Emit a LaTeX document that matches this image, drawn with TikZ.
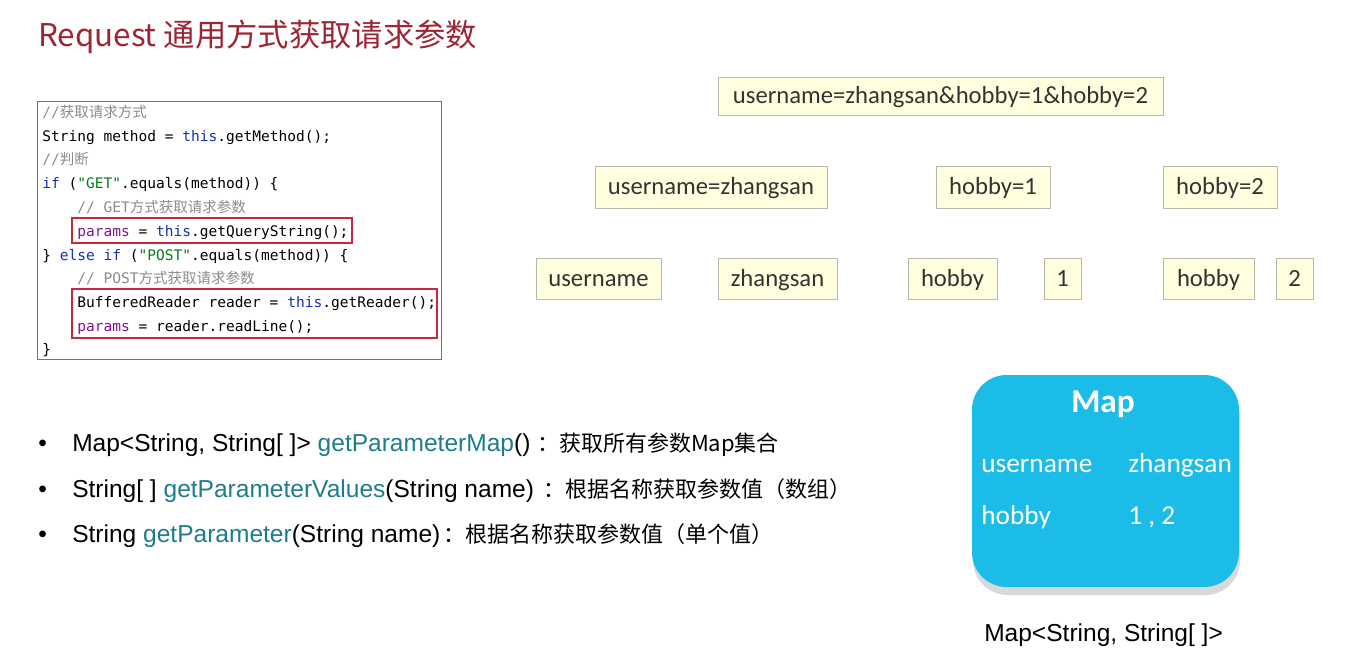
\documentclass[tikz,border=0pt]{standalone}
\usepackage{fontspec}
\setmainfont{Carlito}
\setmonofont{DejaVu Sans Mono}
\newfontfamily\cjk{Noto Sans CJK SC}
\newfontfamily\arialf{Liberation Sans}
\definecolor{titlered}{RGB}{158,38,52}
\definecolor{kwblue}{RGB}{20,50,170}
\definecolor{strgreen}{RGB}{6,125,23}
\definecolor{parpurple}{RGB}{135,16,148}
\definecolor{cmtgray}{RGB}{140,140,140}
\definecolor{markred}{RGB}{200,40,60}
\definecolor{boxyellow}{RGB}{255,255,224}
\definecolor{boxgray}{RGB}{185,185,170}
\definecolor{mapcyan}{RGB}{27,189,232}
\definecolor{methteal}{RGB}{30,125,140}
\newcommand\kw[1]{\textcolor{kwblue}{#1}}
\newcommand\str[1]{\textcolor{strgreen}{#1}}
\newcommand\prm{\textcolor{parpurple}{params}}
\newcommand\meth[1]{\textcolor{methteal}{#1}}
\newcommand\zh[1]{{\cjk\fontsize{16.5}{19}\selectfont #1}}
\tikzset{
  code/.style={anchor=base west, inner sep=0pt, font=\fontsize{10.9}{13}\ttfamily},
  cmt/.style={code, text=cmtgray},
  pbox/.style={draw=boxgray, fill=boxyellow, inner sep=0pt, minimum height=30.75pt,
    text height=15pt, text depth=3.4pt, font=\fontsize{18.5}{22}\selectfont, text=black!80},
  markbox/.style={draw=markred, line width=1.3pt},
  maptext/.style={anchor=base west, inner sep=0pt, text=white, font=\fontsize{20.5}{24}\selectfont},
  bullet/.style={anchor=base west, inner sep=0pt, font=\fontsize{18.4}{22}\arialf}
}
\begin{document}
\begin{tikzpicture}[x=0.75pt, y=-0.75pt]
   \useasboundingbox[fill=white] (0,0) rectangle (1349,662);
   % title
   \node[anchor=base west, inner sep=0pt, text=titlered, font=\fontsize{23.5}{28}\cjk] (title) at (38,46) {Request 通用方式获取请求参数};
   % code
   \draw[black!55] (37,101) rectangle (441,359);
   \node[cmt] (c1) at (42,117) {//{\cjk 获取请求方式}};
   \node[code] (c2) at (42,141) {String method = \kw{this}.getMethod();};
   \node[cmt] (c3) at (42,164) {//{\cjk 判断}};
   \node[code] (c4) at (42,188) {\kw{if} (\str{"GET"}.equals(method)) \{};
   \node[cmt] (c5) at (77,212) {// GET{\cjk 方式获取请求参数}};
   \node[code] (c6) at (77,236) {\prm{} = \kw{this}.getQueryString();};
   \node[code] (c7) at (42,260) {\} \kw{else if} (\str{"POST"}.equals(method)) \{};
   \node[cmt] (c8) at (77,283) {// POST{\cjk 方式获取请求参数}};
   \node[code] (c9) at (77,307) {BufferedReader reader = \kw{this}.getReader();};
   \node[code] (c10) at (77,331) {\prm{} = reader.readLine();};
   \node[code] (c11) at (42,354) {\}};
   \draw[markbox] (72,218) rectangle (352,243);
   \draw[markbox] (72,289) rectangle (437,338);
   % split tree
   \node[pbox, minimum width=333.75pt, minimum height=28.5pt] (all) at (940.5,96) {username=zhangsan\&hobby=1\&hobby=2};
   \node[pbox, minimum width=174pt, minimum height=31.5pt] (p1) at (711,187) {username=zhangsan};
   \node[pbox, minimum width=85.5pt, minimum height=31.5pt] (p2) at (993,187) {hobby=1};
   \node[pbox, minimum width=85.5pt, minimum height=31.5pt] (p3) at (1220,187) {hobby=2};
   \node[pbox, minimum width=93.75pt] (k1) at (598.5,278.5) {username};
   \node[pbox, minimum width=89.25pt] (v1) at (777.5,278.5) {zhangsan};
   \node[pbox, minimum width=66.75pt] (k2) at (952.5,278.5) {hobby};
   \node[pbox, minimum width=27.75pt] (v2) at (1062.5,278.5) {1};
   \node[pbox, minimum width=68.25pt] (k3) at (1208.5,278.5) {hobby};
   \node[pbox, minimum width=27.75pt] (v3) at (1294.5,278.5) {2};
   % map
   \fill[gray!30, rounded corners=26pt] (973,383) rectangle (1240,595);
   \fill[mapcyan, rounded corners=26pt] (972,375) rectangle (1239,587);
   \node[inner sep=0pt, text=white, font=\fontsize{25}{28}\bfseries] (maphead) at (1103,404) {Map};
   \node[maptext] (mk1) at (981,472) {username};
   \node[maptext] (mv1) at (1128,472) {zhangsan};
   \node[maptext] (mk2) at (981,524) {hobby};
   \node[maptext] (mv2) at (1128,524) {1 , 2};
   \node[bullet] (maptype) at (984,641) {Map<String, String[ ]>};
   % methods
   \node[bullet] (b1) at (38,451) {•};
   \node[bullet] (b2) at (38,497) {•};
   \node[bullet] (b3) at (38,542) {•};
   \node[bullet] (m1) at (72,451) {Map<String, String[ ]> \meth{getParameterMap}()\hspace{5pt}\zh{：获取所有参数Map集合}};
   \node[bullet] (m2) at (72,497) {String[ ] \meth{getParameterValues}(String name)\hspace{7pt}\zh{：根据名称获取参数值（数组）}};
   \node[bullet] (m3) at (72,542) {String \meth{getParameter}(String name)\hspace{2pt}\zh{：根据名称获取参数值（单个值）}};
\end{tikzpicture}
\end{document}
